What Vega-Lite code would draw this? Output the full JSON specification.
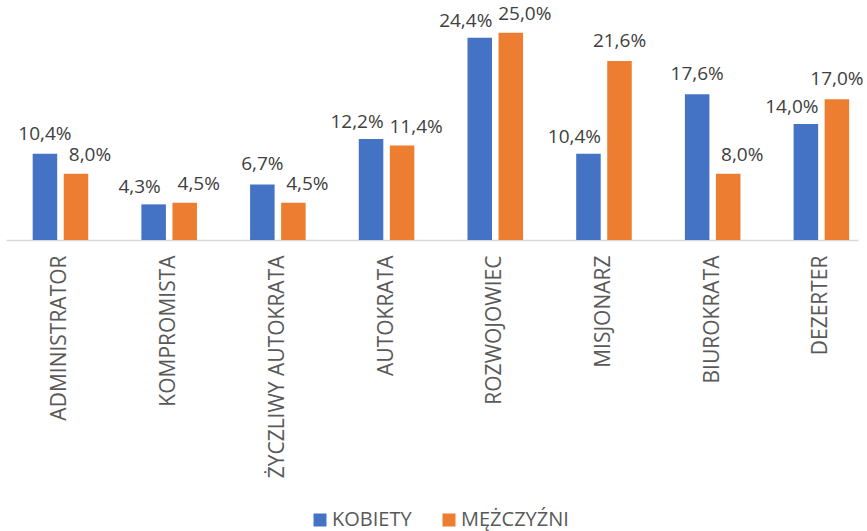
{
  "$schema": "https://vega.github.io/schema/vega-lite/v6.json",
  "width": 852,
  "height": 232,
  "autosize": {"type": "none"},
  "padding": {"left": 6, "top": 8, "right": 9, "bottom": 291},
  "background": "white",
  "config": {
    "view": {"stroke": null},
    "font": "Open Sans",
    "locale": {"number": {"decimal": ",", "thousands": " ", "grouping": [3], "currency": ["", " zł"]}}
  },
  "data": {
    "values": [
      {"typ": "ADMINISTRATOR", "plec": "KOBIETY", "wartosc": 0.104},
      {"typ": "ADMINISTRATOR", "plec": "MĘŻCZYŹNI", "wartosc": 0.080},
      {"typ": "KOMPROMISTA", "plec": "KOBIETY", "wartosc": 0.043},
      {"typ": "KOMPROMISTA", "plec": "MĘŻCZYŹNI", "wartosc": 0.045},
      {"typ": "ŻYCZLIWY AUTOKRATA", "plec": "KOBIETY", "wartosc": 0.067},
      {"typ": "ŻYCZLIWY AUTOKRATA", "plec": "MĘŻCZYŹNI", "wartosc": 0.045},
      {"typ": "AUTOKRATA", "plec": "KOBIETY", "wartosc": 0.122},
      {"typ": "AUTOKRATA", "plec": "MĘŻCZYŹNI", "wartosc": 0.114},
      {"typ": "ROZWOJOWIEC", "plec": "KOBIETY", "wartosc": 0.244},
      {"typ": "ROZWOJOWIEC", "plec": "MĘŻCZYŹNI", "wartosc": 0.250},
      {"typ": "MISJONARZ", "plec": "KOBIETY", "wartosc": 0.104},
      {"typ": "MISJONARZ", "plec": "MĘŻCZYŹNI", "wartosc": 0.216},
      {"typ": "BIUROKRATA", "plec": "KOBIETY", "wartosc": 0.176},
      {"typ": "BIUROKRATA", "plec": "MĘŻCZYŹNI", "wartosc": 0.080},
      {"typ": "DEZERTER", "plec": "KOBIETY", "wartosc": 0.140},
      {"typ": "DEZERTER", "plec": "MĘŻCZYŹNI", "wartosc": 0.170}
    ]
  },
  "encoding": {
    "x": {
      "field": "typ",
      "type": "nominal",
      "sort": null,
      "scale": {"paddingInner": 0.466, "paddingOuter": 0.152, "align": 0.77},
      "axis": {
        "title": null,
        "ticks": false,
        "domainColor": "#D9D9D9",
        "domainWidth": 1.5,
        "labelAngle": -90,
        "labelAlign": "right",
        "labelBaseline": "middle",
        "labelFontSize": 21,
        "labelColor": "#595959",
        "labelPadding": 15,
        "labelLimit": 400
      }
    },
    "xOffset": {
      "field": "plec",
      "type": "nominal",
      "sort": ["KOBIETY", "MĘŻCZYŹNI"],
      "scale": {"paddingInner": 0.21, "paddingOuter": 0.04}
    },
    "y": {
      "field": "wartosc",
      "type": "quantitative",
      "scale": {"domain": [0, 0.28]},
      "axis": null
    },
    "text": {"field": "wartosc", "type": "quantitative", "format": ".1%"}
  },
  "layer": [
    {
      "mark": {"type": "bar"},
      "encoding": {
        "text": null,
        "color": {
          "field": "plec",
          "type": "nominal",
          "sort": ["KOBIETY", "MĘŻCZYŹNI"],
          "scale": {"domain": ["KOBIETY", "MĘŻCZYŹNI"], "range": ["#4472C4", "#ED7D31"]},
          "legend": {
            "title": null,
            "orient": "none",
            "direction": "horizontal",
            "legendX": 304,
            "legendY": 502,
            "symbolType": "square",
            "symbolSize": 169,
            "symbolStrokeWidth": 0,
            "labelFontSize": 20,
            "labelColor": "#595959",
            "labelOffset": 2,
            "columnPadding": 27,
            "padding": 0
          }
        }
      }
    },
    {
      "transform": [
        {"joinaggregate": [{"op": "min", "field": "wartosc", "as": "mn"}], "groupby": ["typ"]},
        {"filter": "datum.plec === 'KOBIETY' && datum.wartosc - datum.mn >= 0.015"}
      ],
      "mark": {"type": "text", "dx": 0, "dy": -14, "baseline": "alphabetic", "fontSize": 19, "color": "#404040"}
    },
    {
      "transform": [
        {"joinaggregate": [{"op": "min", "field": "wartosc", "as": "mn"}], "groupby": ["typ"]},
        {"filter": "datum.plec === 'KOBIETY' && datum.wartosc - datum.mn < 0.015"}
      ],
      "mark": {"type": "text", "dx": -14, "dy": -11, "baseline": "alphabetic", "fontSize": 19, "color": "#404040"}
    },
    {
      "transform": [
        {"joinaggregate": [{"op": "min", "field": "wartosc", "as": "mn"}], "groupby": ["typ"]},
        {"filter": "datum.plec === 'MĘŻCZYŹNI' && datum.wartosc - datum.mn >= 0.015"}
      ],
      "mark": {"type": "text", "dx": 0, "dy": -14, "baseline": "alphabetic", "fontSize": 19, "color": "#404040"}
    },
    {
      "transform": [
        {"joinaggregate": [{"op": "min", "field": "wartosc", "as": "mn"}], "groupby": ["typ"]},
        {"filter": "datum.plec === 'MĘŻCZYŹNI' && datum.wartosc - datum.mn < 0.015"}
      ],
      "mark": {"type": "text", "dx": 14, "dy": -13, "baseline": "alphabetic", "fontSize": 19, "color": "#404040"}
    }
  ]
}
